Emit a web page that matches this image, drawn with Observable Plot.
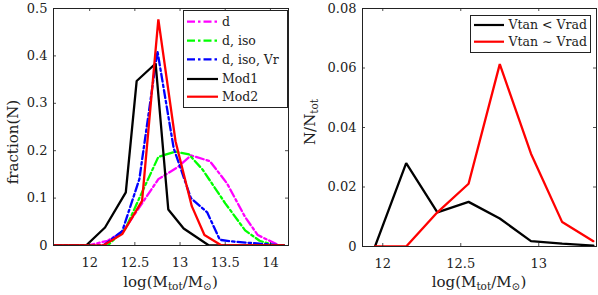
<!DOCTYPE html>
<html>
<head>
<meta charset="utf-8">
<script src="https://cdn.jsdelivr.net/npm/d3@7"></script>
<script src="https://cdn.jsdelivr.net/npm/@observablehq/plot@0.6"></script>
<style>
  html, body { margin: 0; padding: 0; background: white; }
  #wrap { display: flex; width: 598px; height: 295px; }
  svg { display: block; }
</style>
</head>
<body>
<div id="wrap"></div>
<script>
// ---------- Left panel data ----------
const dX        = [11.6, 11.98, 12.2, 12.37, 12.52, 12.76, 12.98, 13.12, 13.33, 13.52, 13.72, 13.86, 14.1, 14.15];
const dY        = [0, 0, 0.01, 0.03, 0.072, 0.14, 0.166, 0.19, 0.178, 0.131, 0.06, 0.022, 0, 0];
const dIsoX     = [11.6, 12.2, 12.4, 12.55, 12.76, 12.95, 13.1, 13.25, 13.5, 13.72, 13.88, 14.05, 14.15];
const dIsoY     = [0, 0, 0.037, 0.1, 0.187, 0.198, 0.192, 0.16, 0.089, 0.032, 0.01, 0, 0];
const dIsoVrX   = [11.6, 12.15, 12.36, 12.55, 12.75, 12.93, 13.12, 13.3, 13.44, 13.6, 14.15];
const dIsoVrY   = [0, 0, 0.03, 0.14, 0.41, 0.205, 0.1, 0.07, 0.012, 0.008, 0];
const mod1X     = [11.6, 11.96, 12.17, 12.4, 12.52, 12.73, 12.87, 13.04, 13.32, 14.15];
const mod1Y     = [0, 0, 0.038, 0.112, 0.347, 0.384, 0.076, 0.036, 0, 0];
const mod2X     = [11.6, 12.15, 12.36, 12.58, 12.76, 12.95, 13.13, 13.27, 13.46, 14.15];
const mod2Y     = [0, 0, 0.024, 0.094, 0.477, 0.22, 0.083, 0.022, 0, 0];
const leftNames = ["d", "d, iso", "d, iso, Vr", "Mod1", "Mod2"];
const xTicksL   = [12, 12.5, 13, 13.5, 14];
const yTicksL   = [0, 0.1, 0.2, 0.3, 0.4, 0.5];

// ---------- Right panel data ----------
const binsR     = [11.95, 12.15, 12.35, 12.55, 12.75, 12.95, 13.15, 13.35];
const vtanLess  = [0, 0.028, 0.0115, 0.015, 0.0094, 0.0018, 0.001, 0.0003];
const vtanSim   = [0, 0, 0.0115, 0.0211, 0.0613, 0.0312, 0.0082, 0.0018];
const rightNames = ["Vtan < Vrad", "Vtan \u223C Vrad"];
const xTicksR   = [12, 12.5, 13];
const yTicksR   = [0, 0.02, 0.04, 0.06, 0.08];

const rows = (xs, ys) => xs.map((x, i) => ({x, y: ys[i]}));
const INK = "#222";
const FONT = "DejaVu Serif";
const DASHDOT = "8,3,2.5,3";
const H = 295;

function panel(cfg) {
  const {width, mL, mR, mT, mB, xDomain, yDomain, xTicks, yTicks, marks} = cfg;
  const pw = width - mL - mR, ph = H - mT - mB;
  const fmt = d3.format("~g");
  return Plot.plot({
    width, height: H,
    marginLeft: mL, marginRight: mR, marginTop: mT, marginBottom: mB,
    style: {fontFamily: FONT, fontSize: "13px", color: INK, background: "white"},
    x: {domain: xDomain, axis: null},
    y: {domain: yDomain, axis: null},
    marks: [
      ...marks,
      Plot.tickX(xTicks, {x: d => d, insetTop: ph - 3, stroke: INK, strokeWidth: 0.8}),
      Plot.tickX(xTicks, {x: d => d, insetBottom: ph - 3, stroke: INK, strokeWidth: 0.8}),
      Plot.tickY(yTicks, {y: d => d, insetRight: pw - 3, stroke: INK, strokeWidth: 0.8}),
      Plot.tickY(yTicks, {y: d => d, insetLeft: pw - 3, stroke: INK, strokeWidth: 0.8}),
      Plot.axisX(xTicks, {tickSize: 0, tickPadding: 12, tickFormat: fmt, label: null, fill: INK}),
      Plot.axisY(yTicks, {tickSize: 0, tickPadding: 6, tickFormat: fmt, label: null, fill: INK}),
      Plot.frame({stroke: INK, strokeWidth: 1})
    ]
  });
}

function addXLabel(svg, cx, y) {
  const t = d3.select(svg).append("text")
    .attr("x", cx).attr("y", y).attr("text-anchor", "middle")
    .attr("font-family", FONT).attr("font-size", 15).attr("fill", INK);
  t.append("tspan").text("log(M");
  t.append("tspan").attr("font-size", 10.5).attr("dy", 3).text("tot");
  t.append("tspan").attr("dy", -3).text("/M");
  t.append("tspan").attr("font-size", 10.5).attr("dy", 3).text("\u2299");
  t.append("tspan").attr("dy", -3).text(")");
}

function addYLabel(svg, x, cy, parts) {
  const t = d3.select(svg).append("text")
    .attr("transform", `translate(${x},${cy}) rotate(-90)`)
    .attr("text-anchor", "middle").attr("dy", "0.35em")
    .attr("font-family", FONT).attr("font-size", 15).attr("fill", INK);
  parts.forEach(([s, sub]) => {
    const sp = t.append("tspan").text(s);
    if (sub) sp.attr("font-size", 10.5).attr("dy", 3);
  });
}

function addLegend(svg, box, entries) {
  const g = d3.select(svg).append("g").attr("text-anchor", "start");
  g.append("rect").attr("x", box.x0).attr("y", box.y0)
    .attr("width", box.x1 - box.x0).attr("height", box.y1 - box.y0)
    .attr("fill", "white").attr("stroke", INK).attr("stroke-width", 1);
  entries.forEach((e, i) => {
    const y = box.ys[i];
    g.append("line").attr("x1", box.sx0).attr("x2", box.sx1).attr("y1", y).attr("y2", y)
      .attr("stroke", e.color).attr("stroke-width", 2.2)
      .attr("stroke-dasharray", e.dash || null);
    g.append("text").attr("x", box.tx).attr("y", y).attr("dy", "0.35em")
      .attr("text-anchor", "start")
      .attr("font-family", FONT).attr("font-size", 12.5).attr("fill", INK).text(e.name);
  });
}

const leftSeries = [
  {name: leftNames[0], color: "#ff00ff", dash: DASHDOT, data: rows(dX, dY)},
  {name: leftNames[1], color: "#00ff00", dash: DASHDOT, data: rows(dIsoX, dIsoY)},
  {name: leftNames[2], color: "#0000ff", dash: DASHDOT, data: rows(dIsoVrX, dIsoVrY)},
  {name: leftNames[3], color: "#000000", dash: null, data: rows(mod1X, mod1Y)},
  {name: leftNames[4], color: "#ff0000", dash: null, data: rows(mod2X, mod2Y)}
];
const rightSeries = [
  {name: rightNames[0], color: "#000000", dash: null, data: rows(binsR, vtanLess)},
  {name: rightNames[1], color: "#ff0000", dash: null, data: rows(binsR, vtanSim)}
];
const lineMark = s => Plot.line(s.data, {x: "x", y: "y", stroke: s.color, strokeWidth: 2.3,
  strokeDasharray: s.dash || undefined, strokeLinejoin: "miter", clip: true});

const left = panel({
  width: 299, mL: 53, mR: 11, mT: 8, mB: 50,
  xDomain: [11.6, 14.2], yDomain: [0, 0.5], xTicks: xTicksL, yTicks: yTicksL,
  marks: leftSeries.map(lineMark)
});
addXLabel(left, 170.5, 287);
addYLabel(left, 13, 142, [["fraction(N)", false]]);
addLegend(left, {x0: 183.5, y0: 10.5, x1: 287.5, y1: 107.5, sx0: 187, sx1: 218, tx: 222,
  ys: [21.7, 40.7, 59.3, 79, 96.7]}, leftSeries);

const right = panel({
  width: 299, mL: 63, mR: 2, mT: 8, mB: 49,
  xDomain: [11.87, 13.37], yDomain: [0, 0.08], xTicks: xTicksR, yTicks: yTicksR,
  marks: rightSeries.map(lineMark)
});
addXLabel(right, 180, 287);
addYLabel(right, 11, 122, [["N/N", false], ["tot", true]]);
addLegend(right, {x0: 171.5, y0: 15.5, x1: 291.5, y1: 52.5, sx0: 175, sx1: 205, tx: 209.5,
  ys: [25, 41.7]}, rightSeries);

document.getElementById("wrap").append(left, right);
</script>
</body>
</html>
